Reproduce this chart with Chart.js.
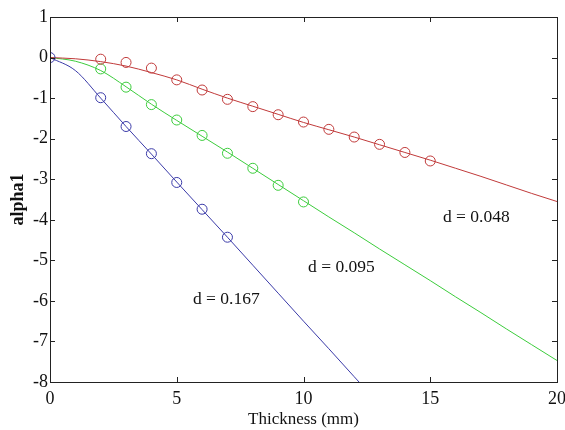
<!DOCTYPE html>
<html>
<head>
<meta charset="utf-8">
<script src="https://cdn.jsdelivr.net/npm/chart.js@4.4.1/dist/chart.umd.min.js"></script>
<style>
  html, body { margin: 0; padding: 0; background: #fff; }
  #wrap { width: 565px; height: 430px; }
</style>
</head>
<body>
<div id="wrap"><canvas id="chart" width="565" height="430"></canvas></div>
<script>
// measured points (circles)
const pointX048 = [2, 3, 4, 5, 6, 7, 8, 9, 10, 11, 12, 13, 14, 15];
const pointY048 = [-0.04, -0.12, -0.26, -0.55, -0.80, -1.03, -1.21, -1.41, -1.59, -1.77, -1.96, -2.14, -2.34, -2.55];
const pointX095 = [2, 3, 4, 5, 6, 7, 8, 9, 10];
const pointY095 = [-0.28, -0.73, -1.16, -1.54, -1.92, -2.36, -2.73, -3.15, -3.56];
const pointX167 = [0, 2, 3, 4, 5, 6, 7];
const pointY167 = [0, -0.99, -1.70, -2.37, -3.08, -3.74, -4.43];

// fitted curves
const curveX = [0, 1, 2, 3, 4, 5, 6, 7, 8, 9, 10, 11, 12, 13, 14, 15, 16, 17, 18, 19, 20];
const curveY048 = [0, -0.03, -0.10, -0.21, -0.37, -0.55, -0.78, -1.00, -1.20, -1.40, -1.60, -1.78, -1.96, -2.15, -2.34, -2.53, -2.73, -2.93, -3.14, -3.35, -3.55];
const curveY095 = [0, -0.09, -0.32, -0.72, -1.15, -1.55, -1.94, -2.33, -2.73, -3.13, -3.53, -3.93, -4.32, -4.72, -5.11, -5.50, -5.90, -6.29, -6.69, -7.08, -7.47];
const curveX167 = [0, 1, 2, 3, 4, 5, 6, 7, 8, 9, 10, 11, 12, 12.19];
const curveY167 = [0, -0.32, -1.00, -1.70, -2.38, -3.07, -3.75, -4.43, -5.12, -5.81, -6.50, -7.18, -7.87, -8.00];

const xTicks = [0, 5, 10, 15, 20];
const yTicks = [1, 0, -1, -2, -3, -4, -5, -6, -7, -8];

const curveLabels = [
  { text: 'd = 0.048', x: 15.5, y: -3.93 },
  { text: 'd = 0.095', x: 10.18, y: -5.18 },
  { text: 'd = 0.167', x: 5.64, y: -5.97 }
];

const RED = '#c03a3a';
const GREEN = '#3ccc3c';
const BLUE = '#3a3aa8';
const FONT = "'Liberation Serif', 'DejaVu Serif', serif";

const toXY = (xs, ys) => xs.map((x, i) => ({ x, y: ys[i] }));

const lineSet = (data, color) => ({
  data,
  borderColor: color,
  borderWidth: 1,
  showLine: true,
  pointRadius: 0,
  tension: 0.4,
  cubicInterpolationMode: 'monotone',
  fill: false,
  order: 2
});

const pointSet = (data, color) => ({
  data,
  borderColor: color,
  backgroundColor: 'rgba(0,0,0,0)',
  borderWidth: 1,
  showLine: false,
  pointRadius: 5,
  pointStyle: 'circle',
  order: 1
});

const boxPlugin = {
  id: 'boxTicks',
  afterDraw(chart) {
    const { ctx, chartArea: a, scales } = chart;
    ctx.save();
    ctx.strokeStyle = '#222';
    ctx.lineWidth = 1;
    ctx.strokeRect(a.left + 0.5, a.top + 0.5, a.right - a.left, a.bottom - a.top);
    ctx.beginPath();
    xTicks.forEach((v) => {
      const px = Math.round(scales.x.getPixelForValue(v)) + 0.5;
      ctx.moveTo(px, a.bottom); ctx.lineTo(px, a.bottom - 5);
      ctx.moveTo(px, a.top); ctx.lineTo(px, a.top + 5);
    });
    yTicks.forEach((v) => {
      const py = Math.round(scales.y.getPixelForValue(v)) + 0.5;
      ctx.moveTo(a.left, py); ctx.lineTo(a.left + 5, py);
      ctx.moveTo(a.right, py); ctx.lineTo(a.right - 5, py);
    });
    ctx.stroke();

    ctx.fillStyle = '#111';
    ctx.font = `17.5px ${FONT}`;
    ctx.textBaseline = 'middle';
    ctx.textAlign = 'left';
    curveLabels.forEach((l) => {
      ctx.fillText(l.text, scales.x.getPixelForValue(l.x), scales.y.getPixelForValue(l.y));
    });
    ctx.restore();
  }
};

new Chart(document.getElementById('chart'), {
  type: 'scatter',
  data: {
    datasets: [
      lineSet(toXY(curveX, curveY048), RED),
      lineSet(toXY(curveX, curveY095), GREEN),
      lineSet(toXY(curveX167, curveY167), BLUE),
      pointSet(toXY(pointX048, pointY048), RED),
      pointSet(toXY(pointX095, pointY095), GREEN),
      pointSet(toXY(pointX167, pointY167), BLUE)
    ]
  },
  options: {
    responsive: false,
    animation: false,
    layout: { padding: { top: 17, right: 8, left: 0, bottom: 0 } },
    plugins: {
      legend: { display: false },
      tooltip: { enabled: false }
    },
    scales: {
      x: {
        type: 'linear',
        min: 0,
        max: 20,
        afterBuildTicks: (scale) => { scale.ticks = xTicks.map((value) => ({ value })); },
        afterFit: (scale) => {
          scale.height = 48;
          scale.paddingLeft = 0;
          scale.paddingRight = 0;
        },
        grid: { display: false, drawTicks: false },
        border: { display: false },
        ticks: { color: '#111', font: { family: FONT, size: 18 }, padding: 6, maxRotation: 0 },
        title: {
          display: true,
          text: 'Thickness (mm)',
          color: '#111',
          font: { family: FONT, size: 17 },
          padding: { top: 0, bottom: 0 }
        }
      },
      y: {
        type: 'linear',
        min: -8,
        max: 1,
        afterBuildTicks: (scale) => { scale.ticks = yTicks.map((value) => ({ value })); },
        afterFit: (scale) => {
          scale.width = 50;
          scale.paddingTop = 0;
          scale.paddingBottom = 0;
        },
        grid: { display: false, drawTicks: false },
        border: { display: false },
        ticks: { color: '#111', font: { family: FONT, size: 18 }, padding: 2 },
        title: {
          display: true,
          text: 'alpha1',
          color: '#111',
          font: { family: FONT, size: 18, weight: 'bold' },
          padding: { top: 8, bottom: 0 }
        }
      }
    }
  },
  plugins: [boxPlugin]
});
</script>
</body>
</html>
